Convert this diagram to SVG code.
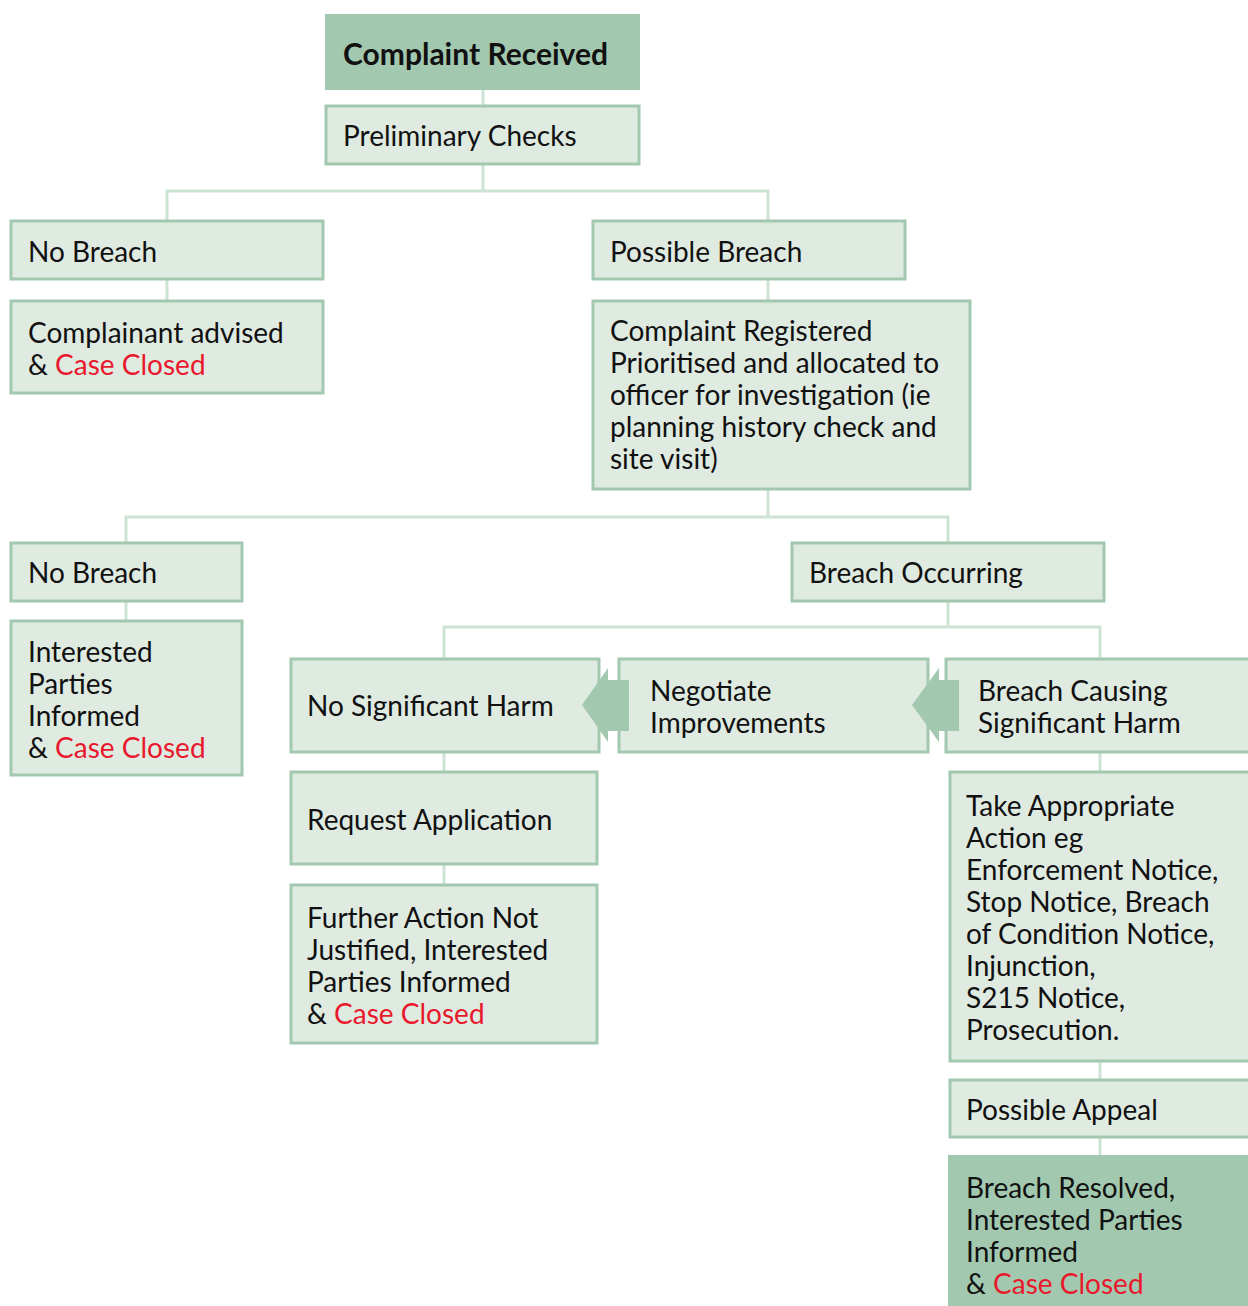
<svg xmlns="http://www.w3.org/2000/svg" width="1248" height="1306" viewBox="0 0 1248 1306">
<style>
.box{fill:#dfeae1;stroke:#a3c8b0;stroke-width:3}
.dark{fill:#a3c8b0}
.t{font-family:Lato,"Noto Sans","Liberation Sans",sans-serif;font-size:28px;fill:#111}
.b{font-weight:bold;font-size:30px}
.red{fill:#e8192c}
.conn{fill:none;stroke:#cde4d4;stroke-width:3}
.arr{fill:#a3c8b0}
</style>
<rect width="1248" height="1306" fill="#fff"/>
<g id="connectors">
<path class="conn" d="M483 90V105M483 164V191M167 220V191H768V220M167 279V300M768 279V300M768 489V517M126 542V517H948V542M126 601V620M948 601V627M444 658V627H1100V658M444 753V771M444 865V884M1100 753V771M1100 1062V1079M1100 1137V1155"/>
</g>
<g id="n1"><rect class="dark" x="325" y="14" width="315" height="76"/><text class="t b" x="343" y="65">Complaint Received</text></g>
<g id="n2"><rect class="box" x="326" y="106" width="313" height="58"/><text class="t" x="343" y="146">Preliminary Checks</text></g>
<g id="n3"><rect class="box" x="11" y="221" width="312" height="58"/><text class="t" x="28" y="262">No Breach</text></g>
<g id="n4"><rect class="box" x="11" y="301" width="312" height="92"/><text class="t" x="28" y="343">Complainant advised</text><text class="t" x="28" y="375">&amp; <tspan class="red">Case Closed</tspan></text></g>
<g id="n5"><rect class="box" x="593" y="221" width="312" height="58"/><text class="t" x="610" y="262">Possible Breach</text></g>
<g id="n6"><rect class="box" x="593" y="301" width="377" height="188"/><text class="t" x="610" y="341">Complaint Registered</text><text class="t" x="610" y="373">Prioritised and allocated to</text><text class="t" x="610" y="405">officer for investigation (ie</text><text class="t" x="610" y="437">planning history check and</text><text class="t" x="610" y="469">site visit)</text></g>
<g id="n7"><rect class="box" x="11" y="543" width="231" height="58"/><text class="t" x="28" y="583">No Breach</text></g>
<g id="n8"><rect class="box" x="11" y="621" width="231" height="154"/><text class="t" x="28" y="662">Interested</text><text class="t" x="28" y="694">Parties</text><text class="t" x="28" y="726">Informed</text><text class="t" x="28" y="758">&amp; <tspan class="red">Case Closed</tspan></text></g>
<g id="n9"><rect class="box" x="792" y="543" width="312" height="58"/><text class="t" x="809" y="583">Breach Occurring</text></g>
<g id="n10"><rect class="box" x="291" y="659" width="308" height="93"/><text class="t" x="307" y="716">No Significant Harm</text></g>
<g id="n11"><rect class="box" x="619" y="659" width="309" height="93"/><text class="t" x="650" y="701">Negotiate</text><text class="t" x="650" y="733">Improvements</text></g>
<g id="n12"><rect class="box" x="946" y="659" width="305" height="93"/><text class="t" x="978" y="701">Breach Causing</text><text class="t" x="978" y="733">Significant Harm</text></g>
<g id="n13"><rect class="box" x="291" y="772" width="306" height="92"/><text class="t" x="307" y="830">Request Application</text></g>
<g id="n14"><rect class="box" x="291" y="885" width="306" height="158"/><text class="t" x="307" y="928">Further Action Not</text><text class="t" x="307" y="960">Justified, Interested</text><text class="t" x="307" y="992">Parties Informed</text><text class="t" x="307" y="1024">&amp; <tspan class="red">Case Closed</tspan></text></g>
<g id="n15"><rect class="box" x="950" y="772" width="301" height="289"/><text class="t" x="966" y="816">Take Appropriate</text><text class="t" x="966" y="848">Action eg</text><text class="t" x="966" y="880">Enforcement Notice,</text><text class="t" x="966" y="912">Stop Notice, Breach</text><text class="t" x="966" y="944">of Condition Notice,</text><text class="t" x="966" y="976">Injunction,</text><text class="t" x="966" y="1008">S215 Notice,</text><text class="t" x="966" y="1040">Prosecution.</text></g>
<g id="n16"><rect class="box" x="950" y="1080" width="301" height="57"/><text class="t" x="966" y="1120">Possible Appeal</text></g>
<g id="n17"><rect class="dark" x="948" y="1155" width="300" height="151"/><text class="t" x="966" y="1198">Breach Resolved,</text><text class="t" x="966" y="1230">Interested Parties</text><text class="t" x="966" y="1262">Informed</text><text class="t" x="966" y="1294">&amp; <tspan class="red">Case Closed</tspan></text></g>
<g id="arrows">
<polygon class="arr" points="582,705 608,668 608,680 629,680 629,731 608,731 608,742"/>
<polygon class="arr" points="912,705 939,668 939,680 959,680 959,731 939,731 939,742"/>
</g>
</svg>
